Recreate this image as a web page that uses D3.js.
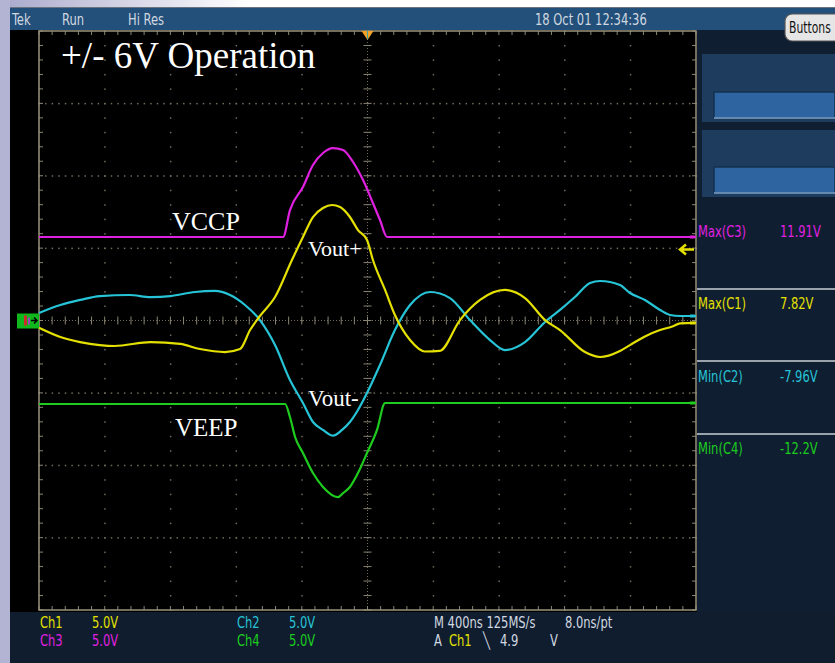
<!DOCTYPE html>
<html>
<head>
<meta charset="utf-8">
<script src="https://cdn.jsdelivr.net/npm/d3@7"></script>
<style>
  body { margin: 0; background: #fff; overflow: hidden; }
  svg { display: block; }
  .ui { font-family: "Liberation Sans Narrow", "DejaVu Sans Condensed", sans-serif; }
  .note { font-family: "Liberation Serif", "Times New Roman", serif; fill: #fff; }
</style>
</head>
<body>
<svg id="scope" width="835" height="663"></svg>
<script>
// time in microseconds, volts per channel (all four grounds at screen centre)
const ch1Time = [-2.0, -1.87, -1.75, -1.63, -1.54, -1.32, -1.14, -1.02, -0.867, -0.776, -0.715, -0.655, -0.563, -0.46, -0.393, -0.332, -0.271, -0.216, -0.167, -0.107, -0.058, -0.003, 0.033, 0.107, 0.167, 0.259, 0.35, 0.44, 0.563, 0.685, 0.837, 0.959, 1.081, 1.172, 1.324, 1.416, 1.537, 1.598, 1.689, 1.781, 1.86, 1.903, 2.0];
const ch1Volt = [-0.5, -1.14, -1.49, -1.7, -1.76, -1.49, -1.62, -1.97, -2.18, -1.97, -0.66, 0.31, 1.62, 4.18, 5.77, 7.15, 7.77, 7.98, 7.84, 7.15, 6.25, 5.56, 4.18, 2.11, 0.38, -1.35, -2.14, -2.1, 0.03, 1.42, 2.11, 1.55, 0.03, -0.66, -2.18, -2.52, -2.1, -1.7, -1.1, -0.66, -0.4, -0.2, -0.17];

const ch2Time = [-2.0, -1.87, -1.75, -1.63, -1.45, -1.32, -1.2, -1.05, -0.93, -0.837, -0.746, -0.655, -0.563, -0.472, -0.393, -0.332, -0.271, -0.21, -0.155, -0.107, -0.058, -0.003, 0.076, 0.167, 0.259, 0.381, 0.502, 0.624, 0.746, 0.837, 0.959, 1.081, 1.172, 1.263, 1.355, 1.416, 1.537, 1.598, 1.689, 1.781, 1.842, 1.903, 2.0];
const ch2Volt = [0.52, 1.07, 1.42, 1.69, 1.76, 1.62, 1.69, 1.97, 2.04, 1.76, 1.07, 0.03, -1.69, -4.11, -5.7, -7.01, -7.56, -7.96, -7.56, -7.01, -6.18, -5.01, -3.07, -0.66, 1.07, 1.97, 1.55, 0.03, -1.35, -2.04, -1.49, -0.1, 0.73, 1.62, 2.59, 2.73, 2.45, 1.9, 1.42, 0.73, 0.38, 0.31, 0.31];

const ch3Time = [-2.0, -0.514, -0.472, -0.393, -0.332, -0.271, -0.21, -0.149, -0.088, -0.027, 0.033, 0.076, 0.119, 2.0];
const ch3Volt = [5.77, 5.77, 7.63, 9.22, 10.74, 11.57, 11.91, 11.78, 10.95, 9.7, 8.12, 6.94, 5.77, 5.77];

const ch4Time = [-2.0, -0.502, -0.472, -0.441, -0.393, -0.332, -0.271, -0.18, -0.149, -0.107, -0.058, -0.003, 0.058, 0.107, 2.0];
const ch4Volt = [-5.77, -5.77, -6.67, -8.05, -9.15, -10.54, -11.5, -12.2, -11.92, -11.5, -10.54, -9.15, -7.56, -5.7, -5.7];

const chColors = { ch1: "#e4e000", ch2: "#26c4d6", ch3: "#e020e0", ch4: "#1ecc1e" };

const measureNames = ["Max(C3)", "Max(C1)", "Min(C2)", "Min(C4)"];
const measureValues = ["11.91V", "7.82V", "-7.96V", "-12.2V"];
const measureColors = [chColors.ch3, chColors.ch1, chColors.ch2, chColors.ch4];

const timeDomain = [-2, 2];      // 10 div x 400ns
const voltDomain = [-20, 20];    // 8 div x 5V

const svg = d3.select("#scope");
const x = d3.scaleLinear().domain(timeDomain).range([39, 696]);
const y = d3.scaleLinear().domain(voltDomain).range([610, 31]);
const grey = "#d2d8e0";

drawFrame();
drawGraticule();
drawTraces();
drawMarkers();
drawNotes();
drawPanel();
drawReadouts();

function drawFrame() {
    const defs = svg.append("defs");
    const g = defs.append("linearGradient").attr("id", "topfade");
    g.append("stop").attr("offset", "0").attr("stop-color", "#a9a9cc");
    g.append("stop").attr("offset", "0.3").attr("stop-color", "#ffffff");
    g.append("stop").attr("offset", "1").attr("stop-color", "#ffffff");

    svg.append("rect").attr("width", 835).attr("height", 663).attr("fill", "#0f1d2f");
    svg.append("rect").attr("width", 835).attr("height", 8).attr("fill", "url(#topfade)");
    svg.append("rect").attr("x", 0).attr("y", 0).attr("width", 10).attr("height", 663).attr("fill", "#b3b3d3");
    svg.append("rect").attr("x", 10).attr("y", 7).attr("width", 825).attr("height", 1).attr("fill", "#6a7480");
    svg.append("rect").attr("x", 10).attr("y", 8).attr("width", 825).attr("height", 22).attr("fill", "#22507a");
    svg.append("rect").attr("x", 10).attr("y", 30).attr("width", 687).attr("height", 582).attr("fill", "#000");
}

function drawGraticule() {
    const grid = svg.append("g");
    const dotColor = "#706b5a";
    const tickColor = "#8a8573";
    const majorT = d3.range(-1.6, 1.61, 0.4).filter(t => Math.abs(t) > 1e-6);
    const majorV = d3.range(-15, 15.1, 5).filter(v => v !== 0);
    const minorT = d3.range(-2, 2.001, 0.08);
    const minorV = d3.range(-20, 20.01, 1);
    const fineT = d3.range(-2, 2.001, 0.04);

    majorT.forEach(t => minorV.forEach(v => {
        grid.append("rect").attr("x", x(t) - 0.5).attr("y", y(v) - 0.5)
            .attr("width", 1.5).attr("height", 1.5).attr("fill", dotColor);
    }));
    majorV.forEach(v => fineT.forEach(t => {
        grid.append("rect").attr("x", x(t) - 0.5).attr("y", y(v) - 0.5)
            .attr("width", 1.5).attr("height", 1.5).attr("fill", dotColor);
    }));

    // centre cross
    grid.append("line").attr("x1", x(-2)).attr("x2", x(2)).attr("y1", y(0)).attr("y2", y(0))
        .attr("stroke", dotColor).attr("stroke-dasharray", "1,2");
    grid.append("line").attr("x1", x(0)).attr("x2", x(0)).attr("y1", y(-20)).attr("y2", y(20))
        .attr("stroke", dotColor).attr("stroke-dasharray", "1,2");
    minorT.forEach(t => {
        grid.append("line").attr("x1", x(t)).attr("x2", x(t)).attr("y1", y(0) - 4).attr("y2", y(0) + 4)
            .attr("stroke", tickColor);
        grid.append("line").attr("x1", x(t)).attr("x2", x(t)).attr("y1", y(20)).attr("y2", y(20) + 4)
            .attr("stroke", tickColor);
        grid.append("line").attr("x1", x(t)).attr("x2", x(t)).attr("y1", y(-20) - 4).attr("y2", y(-20))
            .attr("stroke", tickColor);
    });
    minorV.forEach(v => {
        grid.append("line").attr("x1", x(0) - 4).attr("x2", x(0) + 4).attr("y1", y(v)).attr("y2", y(v))
            .attr("stroke", tickColor);
        grid.append("line").attr("x1", x(-2)).attr("x2", x(-2) + 4).attr("y1", y(v)).attr("y2", y(v))
            .attr("stroke", tickColor);
        grid.append("line").attr("x1", x(2) - 4).attr("x2", x(2)).attr("y1", y(v)).attr("y2", y(v))
            .attr("stroke", tickColor);
    });

    grid.append("rect").attr("x", x(-2)).attr("y", y(20)).attr("width", x(2) - x(-2)).attr("height", y(-20) - y(20))
        .attr("fill", "none").attr("stroke", "#9a937c").attr("stroke-width", 1.5);
}

function drawTraces() {
    const line = d3.line().x(d => x(d[0])).y(d => y(d[1])).curve(d3.curveMonotoneX);
    const traces = [
        [ch3Time, ch3Volt, chColors.ch3],
        [ch4Time, ch4Volt, chColors.ch4],
        [ch2Time, ch2Volt, chColors.ch2],
        [ch1Time, ch1Volt, chColors.ch1]
    ];
    traces.forEach(([ts, vs, color]) => {
        svg.append("path")
            .attr("d", line(d3.zip(ts, vs)))
            .attr("fill", "none")
            .attr("stroke", color)
            .attr("stroke-width", 2.2);
    });
}

function drawMarkers() {
    // ground reference tag on the left
    svg.append("rect").attr("x", 17).attr("y", y(0) - 7).attr("width", 22).attr("height", 15).attr("fill", "#0fb81c");
    svg.append("rect").attr("x", 24).attr("y", y(0) - 5).attr("width", 3).attr("height", 10).attr("fill", "#d02a2a");
    svg.append("rect").attr("x", 28).attr("y", y(0) - 3).attr("width", 2).attr("height", 7).attr("fill", "#a040c0");
    svg.append("path").attr("d", `M31,${y(0)} h6 M34,${y(0) - 3} l3,3 l-3,3`)
        .attr("stroke", "#000").attr("stroke-width", 1.5).attr("fill", "none");

    // trigger position
    svg.append("path").attr("d", `M${x(0) - 6},31 h12 l-6,9 z`).attr("fill", "#f0a028");
    svg.append("line").attr("x1", x(0)).attr("x2", x(0)).attr("y1", 31).attr("y2", 39).attr("stroke", "#3aa0a0");

    // trigger level arrow (Ch1 at 4.9V)
    const ty = y(4.9);
    svg.append("path").attr("d", `M680,${ty} h14 M686,${ty - 5} l-6,5 l6,5`)
        .attr("stroke", chColors.ch1).attr("stroke-width", 2.5).attr("fill", "none");

    // channel ends on the right edge
    [[ch3Volt, chColors.ch3], [ch2Volt, chColors.ch2], [ch1Volt, chColors.ch1], [ch4Volt, chColors.ch4]]
        .forEach(([vs, color]) => {
            svg.append("rect").attr("x", 690).attr("y", y(vs[vs.length - 1]) - 1.5)
                .attr("width", 5).attr("height", 3).attr("fill", color);
        });
}

function drawNotes() {
    svg.append("text").attr("class", "note").attr("x", 61).attr("y", 68).attr("font-size", 37).text("+/- 6V Operation");
    svg.append("text").attr("class", "note").attr("x", 172).attr("y", 230).attr("font-size", 26).text("VCCP");
    svg.append("text").attr("class", "note").attr("x", 308).attr("y", 256).attr("font-size", 22).text("Vout+");
    svg.append("text").attr("class", "note").attr("x", 308).attr("y", 406).attr("font-size", 23).text("Vout-");
    svg.append("text").attr("class", "note").attr("x", 175).attr("y", 436).attr("font-size", 25).text("VEEP");
}

function drawPanel() {
    svg.append("rect").attr("x", 697).attr("y", 30).attr("width", 138).attr("height", 582).attr("fill", "#0f1e31");
    svg.append("rect").attr("x", 697).attr("y", 8).attr("width", 138).attr("height", 22).attr("fill", "#22507a");
    svg.append("rect").attr("x", 702).attr("y", 54).attr("width", 133).attr("height", 68).attr("fill", "#1d3c5e");
    svg.append("rect").attr("x", 702).attr("y", 130).attr("width", 133).attr("height", 67).attr("fill", "#1d3c5e");
    [92, 167].forEach(by => {
        svg.append("rect").attr("x", 714).attr("y", by).attr("width", 121).attr("height", 26).attr("fill", "#2e64a0")
            .attr("stroke", "#14304e").attr("stroke-width", 1.5);
        svg.append("line").attr("x1", 714).attr("x2", 835).attr("y1", by + 26).attr("y2", by + 26)
            .attr("stroke", "#7fa6cc").attr("stroke-width", 1.5);
    });
    svg.append("rect").attr("x", 785).attr("y", 14).attr("width", 60).attr("height", 27).attr("rx", 7)
        .attr("fill", "#e6e6e6").attr("stroke", "#555").attr("stroke-width", 1.2);
    [289, 361, 434].forEach(ly => {
        svg.append("rect").attr("x", 697).attr("y", ly - 1).attr("width", 138).attr("height", 2).attr("fill", "#9aa2ac");
    });
}

function uiText(g, str, tx, ty, color, size) {
    g.append("text")
        .attr("transform", `translate(${tx},${ty}) scale(0.8,1)`)
        .attr("fill", color)
        .attr("font-size", size || 16)
        .text(str);
}

function drawReadouts() {
    const ui = svg.append("g").attr("class", "ui");
    uiText(ui, "Tek", 12, 25, grey);
    uiText(ui, "Run", 62, 25, grey);
    uiText(ui, "Hi Res", 128, 25, grey);
    uiText(ui, "18 Oct 01 12:34:36", 535, 25, grey);
    uiText(ui, "Buttons", 789, 33, "#111", 15);

    const rowY = [237, 309, 382, 454];
    measureNames.forEach((name, i) => {
        uiText(ui, name, 698, rowY[i], measureColors[i]);
        uiText(ui, measureValues[i], 780, rowY[i], measureColors[i]);
    });

    // bottom status lines
    const bottom = [
        ["Ch1", 40, 628, chColors.ch1], ["5.0V", 92, 628, chColors.ch1],
        ["Ch3", 40, 646, chColors.ch3], ["5.0V", 92, 646, chColors.ch3],
        ["Ch2", 237, 628, chColors.ch2], ["5.0V", 289, 628, chColors.ch2],
        ["Ch4", 237, 646, chColors.ch4], ["5.0V", 289, 646, chColors.ch4],
        ["M 400ns 125MS/s", 434, 628, grey], ["8.0ns/pt", 565, 628, grey],
        ["A", 434, 646, grey], ["Ch1", 449, 646, chColors.ch1], ["\u2572", 483, 646, grey],
        ["4.9", 500, 646, grey], ["V", 550, 646, grey]
    ];
    bottom.forEach(([t, bx, by, c]) => uiText(ui, t, bx, by, c));
}
</script>
</body>
</html>
